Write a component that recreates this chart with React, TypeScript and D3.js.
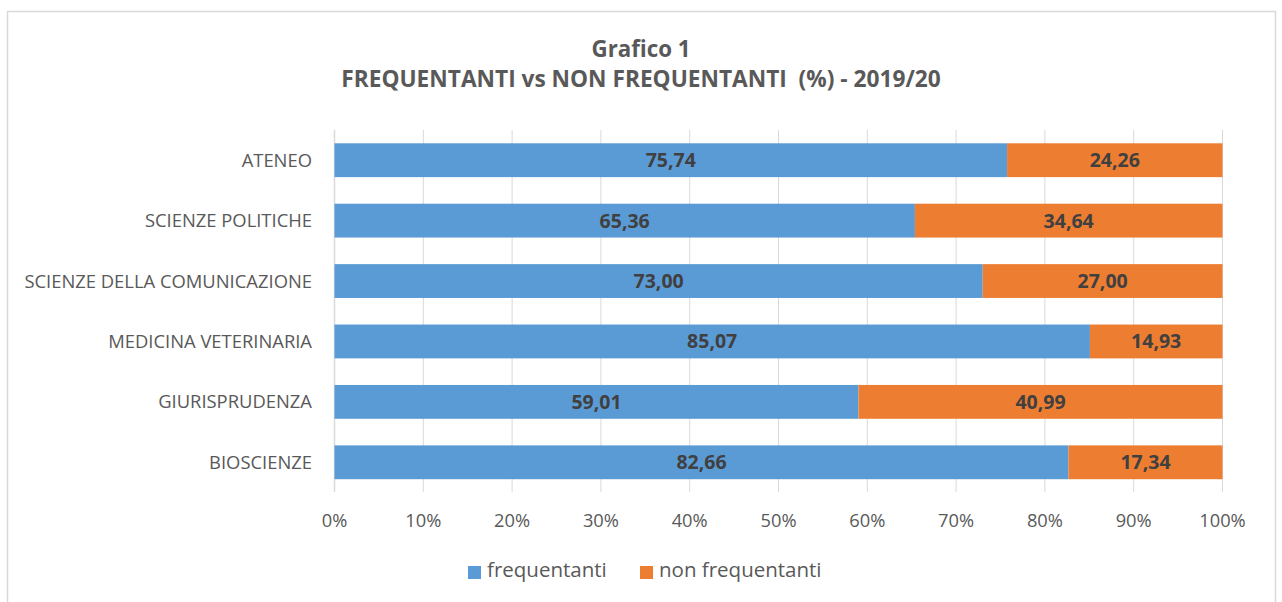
import * as d3 from 'd3'

const categories = ['ATENEO', 'SCIENZE POLITICHE', 'SCIENZE DELLA COMUNICAZIONE', 'MEDICINA VETERINARIA', 'GIURISPRUDENZA', 'BIOSCIENZE']
const frequentanti = [75.74, 65.36, 73.0, 85.07, 59.01, 82.66]
const nonFrequentanti = [24.26, 34.64, 27.0, 14.93, 40.99, 17.34]
const ticks = [0, 10, 20, 30, 40, 50, 60, 70, 80, 90, 100]

const W = 1282
const H = 602
const font = '"Open Sans", sans-serif'
const grey = '#595959'
const blue = '#5b9bd5'
const orange = '#ed7d31'

export default function App() {
  const x = d3.scaleLinear().domain([0, 100]).range([334.5, 1222.5])
  const y = d3.scaleBand().domain(categories).range([130, 492.5]).paddingInner(0.44).paddingOuter(0.22)
  const fmt = (v: number) => v.toFixed(2).replace('.', ',')

  return (
    <svg width={W} height={H} style={{ position: 'absolute', left: 0, top: 0 }} fontFamily={font}>
      <rect x={0} y={0} width={W} height={H} fill="#fff" />
      <path d="M7.5,602 V11.5 H1275.5 V602" fill="none" stroke="#d9d9d9" strokeWidth={1.5} />
      <text x={641} y={56.5} textAnchor="middle" fontSize={22.3} fontWeight="bold" fill={grey}>Grafico 1</text>
      <text x={641} y={87} textAnchor="middle" fontSize={22.7} fontWeight="bold" fill={grey} style={{ whiteSpace: 'pre' }}>
        FREQUENTANTI vs NON FREQUENTANTI  (%) - 2019/20
      </text>
      {ticks.map((t) => (
        <g key={t}>
          <line x1={x(t)} x2={x(t)} y1={130} y2={492} stroke="#d9d9d9" strokeWidth={t === 0 ? 1.5 : 1} />
          <text x={x(t)} y={527} textAnchor="middle" fontSize={18.3} fill={grey}>{t}%</text>
        </g>
      ))}
      {categories.map((c, i) => {
        const y0 = y(c)!
        const bh = y.bandwidth()
        const f = frequentanti[i]
        const n = nonFrequentanti[i]
        return (
          <g key={c}>
            <text x={312} y={y0 + bh / 2} dy="0.36em" textAnchor="end" fontSize={18.4} fill={grey}>{c}</text>
            <rect x={x(0)} y={y0} width={x(f) - x(0)} height={bh} fill={blue} />
            <rect x={x(f)} y={y0} width={x(f + n) - x(f)} height={bh} fill={orange} />
            <text x={(x(0) + x(f)) / 2} y={y0 + bh / 2} dy="0.36em" textAnchor="middle" fontSize={19.5} fontWeight="bold" fill="#404040">{fmt(f)}</text>
            <text x={(x(f) + x(f + n)) / 2} y={y0 + bh / 2} dy="0.36em" textAnchor="middle" fontSize={19.5} fontWeight="bold" fill="#404040">{fmt(n)}</text>
          </g>
        )
      })}
      <rect x={468} y={566} width={13} height={13} fill={blue} />
      <text x={487} y={577} fontSize={20.5} fill={grey}>frequentanti</text>
      <rect x={640} y={566} width={13} height={13} fill={orange} />
      <text x={659} y={577} fontSize={20.5} fill={grey}>non frequentanti</text>
    </svg>
  )
}
